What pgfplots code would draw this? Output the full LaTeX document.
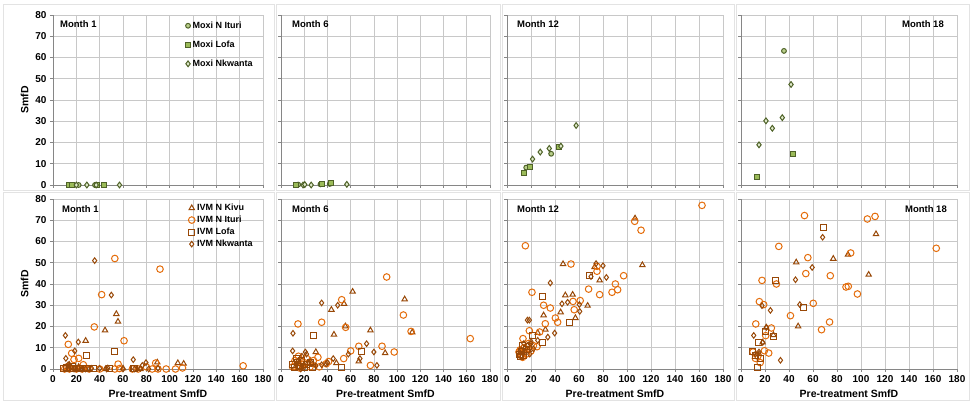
\documentclass[border=0pt]{standalone}
\usepackage{pgfplots}
\pgfplotsset{compat=1.18}
\usepackage{fontspec}
\setmainfont{Liberation Sans}
\definecolor{ituri}{HTML}{E46C0A}
\definecolor{brn}{HTML}{984807}
\definecolor{mgreen}{HTML}{4F6228}
\definecolor{mfill}{HTML}{9BBB59}
\definecolor{gridc}{HTML}{C8C8C8}
\definecolor{axc}{HTML}{868686}
\pgfplotsset{
 panel/.style={scale only axis, width=#1, height=170pt,
   xmin=0,xmax=180,ymin=0,ymax=80, xtick distance=20, ytick distance=10,
   grid=major, grid style={gridc, line width=0.6pt},
   axis x line*=bottom, axis y line*=left,
   axis line style={axc, line width=0.8pt, -},
   tick align=outside, major tick length=3pt, tick style={axc, line width=0.6pt},
   xticklabel={\bfseries\pgfmathprintnumber[assume math mode=true]{\tick}},
   yticklabel={\bfseries\pgfmathprintnumber[assume math mode=true]{\tick}},
   xticklabel style={font=\bfseries\fontsize{10}{11}\selectfont},
   yticklabel style={font=\bfseries\fontsize{10}{11}\selectfont},
   clip=false,
   label style={font=\bfseries\fontsize{10.5}{12}\selectfont},
   legend style={draw=none, fill=none, font=\bfseries\fontsize{9}{10}\selectfont, cells={anchor=west}},
   legend image code/.code={\draw[mark repeat=2,mark phase=2] plot coordinates {(0cm,0cm)(0.1cm,0cm)(0.2cm,0cm)};},
 },
 kivu/.style={only marks, mark=triangle, mark size=3.1pt, color=brn, line width=1pt},
 ituriS/.style={only marks, mark=o, mark size=3.3pt, color=ituri, line width=1pt},
 lofa/.style={only marks, mark=square, mark size=3pt, color=brn, line width=1pt},
 nkw/.style={only marks, mark=diamond, mark size=2.8pt, color=brn, line width=1pt},
 mitu/.style={only marks, mark=*, mark size=2.4pt, color=mgreen, mark options={draw=mgreen, fill=mfill!70!white, line width=1pt}},
 mlofa/.style={only marks, mark=square*, mark size=2.5pt, color=mgreen, mark options={draw=mgreen, fill=mfill, line width=1pt}},
 mnkw/.style={only marks, mark=diamond*, mark size=2.9pt, color=mgreen, mark options={draw=mgreen, fill=mfill!30!white, line width=1pt}},
}
\tikzset{
 mtitle/.style={anchor=north west, inner sep=0pt, font=\bfseries\fontsize{9.5}{11}\selectfont},
 mtitleR/.style={anchor=north east, inner sep=0pt, font=\bfseries\fontsize{9.5}{11}\selectfont},
}
\begin{document}
\begin{tikzpicture}
\path[use as bounding box] (0,0) rectangle (972pt,404pt);
% chart-area borders
\begin{scope}[draw=gray!22, line width=0.5pt]
\draw (3pt,214pt) rectangle (274pt,400pt);
\draw (3pt,4pt) rectangle (274pt,212pt);
\draw (276pt,214pt) rectangle (500pt,400pt);
\draw (276pt,4pt) rectangle (500pt,212pt);
\draw (502pt,214pt) rectangle (734pt,400pt);
\draw (502pt,4pt) rectangle (734pt,212pt);
\draw (736pt,214pt) rectangle (969pt,400pt);
\draw (736pt,4pt) rectangle (969pt,212pt);
\end{scope}

%================ TOP ROW (Moxi) ================
\begin{axis}[panel=210pt, at={(53pt,219pt)}, anchor=south west, xticklabels={}, ylabel={SmfD},
  legend style={at={(rel axis cs:0.975,0.985)}, anchor=north east, row sep=7pt}]
\addplot[mitu] coordinates {(17,0) (22,0) (36,0)};
\addplot[mlofa] coordinates {(14,0) (16,0) (38,0) (44,0)};
\addplot[mnkw] coordinates {(20,0) (29,0) (37,0) (57,0)};
\legend{Moxi N Ituri, Moxi Lofa, Moxi Nkwanta}
\node[mtitle] at (rel axis cs:0,1) [xshift=7pt, yshift=-5.5pt] {Month 1};
\end{axis}

\begin{axis}[panel=209pt, at={(281pt,219pt)}, anchor=south west, xticklabels={}, yticklabels={}]
\addplot[mitu] coordinates {(14.8,0.2) (34,0.3) (42,0.5)};
\addplot[mlofa] coordinates {(12.8,0) (35.6,0.5) (43,1.1)};
\addplot[mnkw] coordinates {(19,0) (20.5,0.2) (26,0) (56.7,0.3)};
\node[mtitle] at (rel axis cs:0,1) [xshift=11pt, yshift=-5.5pt] {Month 6};
\end{axis}

\begin{axis}[panel=216pt, at={(507pt,219pt)}, anchor=south west, xticklabels={}, yticklabels={}]
\addplot[mitu] coordinates {(16,8.2) (36.8,14.7)};
\addplot[mlofa] coordinates {(14.4,5.8) (18.8,8.3) (43.5,18.1)};
\addplot[mnkw] coordinates {(21.3,12.2) (27.7,15.5) (35.2,17.2) (44.9,18.3) (57.6,28)};
\node[mtitle] at (rel axis cs:0,1) [xshift=10pt, yshift=-5.5pt] {Month 12};
\end{axis}

\begin{axis}[panel=216pt, at={(741pt,219pt)}, anchor=south west, xticklabels={}, yticklabels={}]
\addplot[mitu] coordinates {(35.8,63.1)};
\addplot[mlofa] coordinates {(13.3,3.6) (43,14.5)};
\addplot[mnkw] coordinates {(15,18.9) (20.8,30.2) (26.1,26.7) (34.4,31.7) (41.7,47.3)};
\node[mtitleR] at (rel axis cs:1,1) [xshift=-13pt, yshift=-5.5pt] {Month 18};
\end{axis}

%================ BOTTOM ROW (IVM) ================
\begin{axis}[panel=210pt, at={(53pt,35pt)}, anchor=south west, ylabel={SmfD}, xlabel={Pre-treatment SmfD},
  legend style={at={(rel axis cs:0.975,0.995)}, anchor=north east, row sep=0pt}]
\addplot[kivu] coordinates {(54.3,25.9) (55.7,22.3) (44.6,18.2) (28,13.3) (89.4,3.1) (107,2.8) (112,2.5) (12,0) (16,0.5) (20,0) (24,0) (30,0) (45,0) (60,0.3) (75,0) (22,1) (14,2)};
\addplot[ituriS] coordinates {(53,52) (91.7,47) (41.7,35) (35.4,19.8) (60.9,13.3) (13.1,11.6) (16,7.4) (18,4.5) (22,5) (26,2) (12,1) (55.8,2.3) (88,2.8) (163,1.5) (10,0) (14,0) (20,0) (25,0) (31,0) (40,0) (53,0) (68,0) (73,0) (85,0) (90,0) (97,0) (105,0) (111,0.5) (57,0.2) (80,1)};
\addplot[lofa] coordinates {(28.9,6.2) (52.6,8.2) (9,0) (12,0.5) (15,0) (17,1) (20,0) (23,0.3) (29,0) (35,0) (48,0) (69,0) (70,0.3)};
\addplot[nkw] coordinates {(35.7,51) (50,34.8) (10.6,15.8) (21.7,12.7) (18.6,8.5) (11,5) (68.8,4.4) (79.7,3) (76.6,1.7) (13,2) (15,1) (18,0) (22,0.5) (25,0) (28,0) (33,0.3) (40,0.3) (46,0) (47,0.5) (60,0) (70,0) (75,0.3) (82,0) (90,0.3)};
\legend{IVM N Kivu, IVM N Ituri, IVM Lofa, IVM Nkwanta}
\node[mtitle] at (rel axis cs:0,1) [xshift=9pt, yshift=-6pt] {Month 1};
\end{axis}

\begin{axis}[panel=209pt, at={(281pt,35pt)}, anchor=south west, yticklabels={}, xlabel={Pre-treatment SmfD}]
\addplot[kivu] coordinates {(61.7,36.4) (106.5,32.8) (54.3,30.7) (43.4,27.9) (55.4,20.1) (45.6,16.2) (77,18.2) (113,17.3) (89.7,7.5) (67,3.6) (47.7,2.8) (30,8) (25,4) (20,2) (15,1) (12,0.5) (28,2)};
\addplot[ituriS] coordinates {(91,43.3) (52.3,32.6) (105.4,25.4) (14.6,21.2) (35,22) (55.7,19.6) (112,17.7) (163,14.3) (67,10.7) (87,10.7) (97.5,8) (60,8.5) (54,4.9) (77,1.7) (39,2.5) (41,3.5) (31.8,5.5) (12,4) (15,6) (18,2) (22,5) (25,1) (10,1) (16,0.5) (20,3) (28,4) (33,1)};
\addplot[lofa] coordinates {(28,15.7) (69,8) (51.8,0.8) (10,2) (12,0.5) (14,3) (16,1) (18,4) (20,0.5) (13,5) (22,2) (25,3) (27,0.5)};
\addplot[nkw] coordinates {(35,31.1) (48.8,30) (10.3,16.8) (73.7,11.9) (80,8) (58,7) (68,4.9) (82.6,1.7) (45,4.9) (38.8,2.4) (10,8.5) (21,8) (18,6) (15,4) (13,2) (20,1) (24,3) (30,1.5) (35,2) (40,3) (17,0) (22,7)};
\node[mtitle] at (rel axis cs:0,1) [xshift=11pt, yshift=-6pt] {Month 6};
\end{axis}

\begin{axis}[panel=216pt, at={(507pt,35pt)}, anchor=south west, yticklabels={}, xlabel={Pre-treatment SmfD}]
\addplot[kivu] coordinates {(106.7,70.9) (46.7,49.4) (112.8,48.9) (73,48) (77.2,41.7) (48.6,34.7) (54.7,35) (67.2,29.8) (30.5,25.3) (44.7,26.7) (57,24) (25.6,17) (32,18.5) (20,13) (15,10) (12,8) (18,9)};
\addplot[ituriS] coordinates {(162.5,77) (106.4,69.5) (111.7,65.3) (15.3,58) (53.3,49.4) (75,48.3) (75,46) (97.2,43.9) (90.3,40) (68,37.6) (92.2,37.3) (87.5,36.1) (20.8,36.1) (77.2,35) (55,31.8) (61,32.2) (30.5,30) (36.1,28.7) (56,27.9) (40.3,24) (42.2,22) (31.9,21.3) (18.6,18) (27.2,17.4) (13.3,14.3) (10,8) (12,6.5) (14,10) (16,7) (18,12) (11,9) (22,11) (13,5.5) (20,8.5) (25,10.5)};
\addplot[lofa] coordinates {(68.9,43.9) (29.2,34.2) (52.2,22.1) (21.4,15.8) (29.2,12.5) (10,7) (12,8) (14,6.5) (11,6) (16,9) (18,10.5) (13,11)};
\addplot[nkw] coordinates {(74.2,49.6) (80,48.6) (70,43.5) (82.8,43.1) (36.1,40.5) (45.8,30.7) (50.5,31.4) (60.3,30.3) (60.6,27.1) (39.7,16.9) (34,15) (25.6,13.5) (18.6,23) (17,23) (12,9) (15,8) (17,11) (20,12) (22,9.5) (10,6.5) (14,12) (19,7)};
\node[mtitle] at (rel axis cs:0,1) [xshift=10pt, yshift=-6pt] {Month 12};
\end{axis}

\begin{axis}[panel=216pt, at={(741pt,35pt)}, anchor=south west, yticklabels={}, xlabel={Pre-treatment SmfD}]
\addplot[kivu] coordinates {(112.5,63.5) (89.1,53.8) (76.9,51.9) (46,50.2) (106.4,44.4) (47.6,20.1) (21,19.5) (27,16) (18,12.5) (15,7)};
\addplot[ituriS] coordinates {(52.9,72.2) (105.3,70.6) (111.7,71.8) (31.5,57.7) (162.7,56.8) (91.4,54.6) (55.7,52.4) (54,44.9) (74.4,43.9) (17.5,41.7) (29.5,40) (87.5,38.6) (89.4,38.9) (97,35.3) (15.3,31.7) (18.9,30.3) (60.2,30.9) (41.2,25.1) (12.3,21.2) (73.8,22.1) (67.1,18.5) (25.3,19.3) (20.6,15.7) (19.5,8.6) (23.1,7.5) (12,5) (16,3) (10,8) (14,6)};
\addplot[lofa] coordinates {(69.1,66.8) (28.4,41.7) (52.4,29) (20.3,17.7) (27.3,15.4) (14.2,12.5) (9.2,8.3) (14,0.9) (16,5) (12,6.5)};
\addplot[nkw] coordinates {(68,62) (59.3,47.8) (45.4,42) (49,30.3) (17.5,29.8) (24.5,27.6) (21.2,19.6) (10.6,15.8) (18.1,12.5) (32.9,4.1) (15,8) (12,7)};
\node[mtitleR] at (rel axis cs:1,1) [xshift=-10pt, yshift=-6pt] {Month 18};
\end{axis}
\end{tikzpicture}
\end{document}
